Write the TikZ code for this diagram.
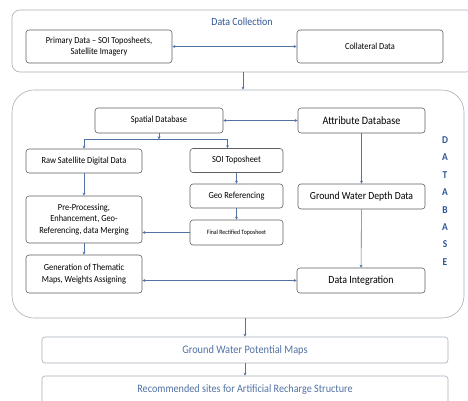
\documentclass[tikz,border=0pt]{standalone}
\usepackage{fontspec}
\setmainfont{Carlito}[FakeStretch=0.9]
\usetikzlibrary{arrows.meta}
\definecolor{arrowblue}{RGB}{82,114,165}
\definecolor{titleblue}{RGB}{47,85,151}
\definecolor{boxgray}{RGB}{95,95,95}
\definecolor{framegray}{RGB}{165,175,185}
\tikzset{
  box/.style={draw=boxgray, line width=0.6pt, rounded corners=3pt, fill=white,
    inner sep=0pt, align=center, font=\fontsize{9.3}{11.5}\selectfont},
  frame/.style={draw=framegray, line width=0.6pt, inner sep=0pt},
  link/.style={draw=arrowblue, line width=0.6pt, -{Stealth[length=3pt,width=3pt]}},
  twoway/.style={link, {Stealth[length=3pt,width=3pt]}-{Stealth[length=3pt,width=3pt]}}
}
\begin{document}
\begin{tikzpicture}[x=1pt,y=-1pt]
  \useasboundingbox (0,0) rectangle (468,400);
  \clip (0,0) rectangle (468,400);
  % outer frames
  \node[frame, rounded corners=8pt, minimum width=462pt, minimum height=62pt] (colbox) at (243,41) {};
  \node[frame, rounded corners=22pt, minimum width=452pt, minimum height=228pt] (dbbox) at (238,204) {};
  \node[text=titleblue, font=\fontsize{11}{13}\selectfont] (coltitle) at (242,22) {Data Collection};
  \node[text=titleblue, font=\bfseries\fontsize{10.5}{17.4}\selectfont, align=center, inner sep=0pt] (dbtitle) at (445,201)
    {D\\A\\T\\A\\B\\A\\S\\E};
  % data collection
  \node[box, minimum width=146pt, minimum height=33pt] (prim) at (99,46.5)
    {Primary Data -- SOI Toposheets,\\Satellite Imagery};
  \node[box, minimum width=146pt, minimum height=33pt] (coll) at (370,46.5) {Collateral Data};
  % database
  \node[box, minimum width=128pt, minimum height=25pt] (spat) at (159,120.5) {Spatial Database};
  \node[box, minimum width=127pt, minimum height=25pt, font=\fontsize{11.3}{13}\selectfont] (attr) at (361.5,120.5) {Attribute Database};
  \node[box, minimum width=116pt, minimum height=24pt] (raw) at (84,161) {Raw Satellite Digital Data};
  \node[box, minimum width=93pt, minimum height=24pt] (soi) at (236.5,160.5) {SOI Toposheet};
  \node[box, minimum width=93pt, minimum height=24pt] (geo) at (236.5,196) {Geo Referencing};
  \node[box, minimum width=93pt, minimum height=25pt, font=\fontsize{6.5}{8}\selectfont] (fin) at (236.5,232.5) {Final Rectified Toposheet};
  \node[box, minimum width=116pt, minimum height=47pt] (pre) at (84,219.5)
    {Pre-Processing,\\Enhancement, Geo-\\Referencing, data Merging};
  \node[box, minimum width=116pt, minimum height=38pt] (gen) at (84,274)
    {Generation of Thematic\\Maps, Weights Assigning};
  \node[box, minimum width=127pt, minimum height=25pt, font=\fontsize{10.8}{13}\selectfont] (gwd) at (361.5,196.5) {Ground Water Depth Data};
  \node[box, minimum width=128pt, minimum height=25pt, font=\fontsize{11}{13}\selectfont] (integ) at (361,280.5) {Data Integration};
  % results
  \node[box, draw=framegray, text=arrowblue, minimum width=406pt, minimum height=26pt, font=\fontsize{11.5}{13}\selectfont] (gwp) at (245,350) {Ground Water Potential Maps};
  \node[box, draw=framegray, text=arrowblue, minimum width=406pt, minimum height=28pt, font=\fontsize{11.3}{13}\selectfont] (rec) at (245,390) {Recommended sites for Artificial Recharge Structure};
  \begin{scope}[link]
    \draw[twoway] (prim) to (coll);
    \draw (colbox.south) to (colbox.south |- dbbox.north);
    \draw[twoway] (spat) to (attr);
    \draw (spat.south) to ++(0,6) coordinate (split);
    \draw (split) -| (raw.north);
    \draw (split) -| ([xshift=-9pt]soi.north);
    \draw (raw) to (pre);
    \draw (pre) to (gen);
    \draw (soi) to (geo);
    \draw (geo) to (fin);
    \draw (fin.west) to (fin.west -| pre.east);
    \draw (attr) to (gwd);
    \draw (gwd) to (integ);
    \draw[twoway] (integ.west -| gen.east) to (integ.west);
    \draw (dbbox.south -| gwp.north) to (gwp.north);
    \draw (gwp) to (rec);
  \end{scope}
\end{tikzpicture}
\end{document}
